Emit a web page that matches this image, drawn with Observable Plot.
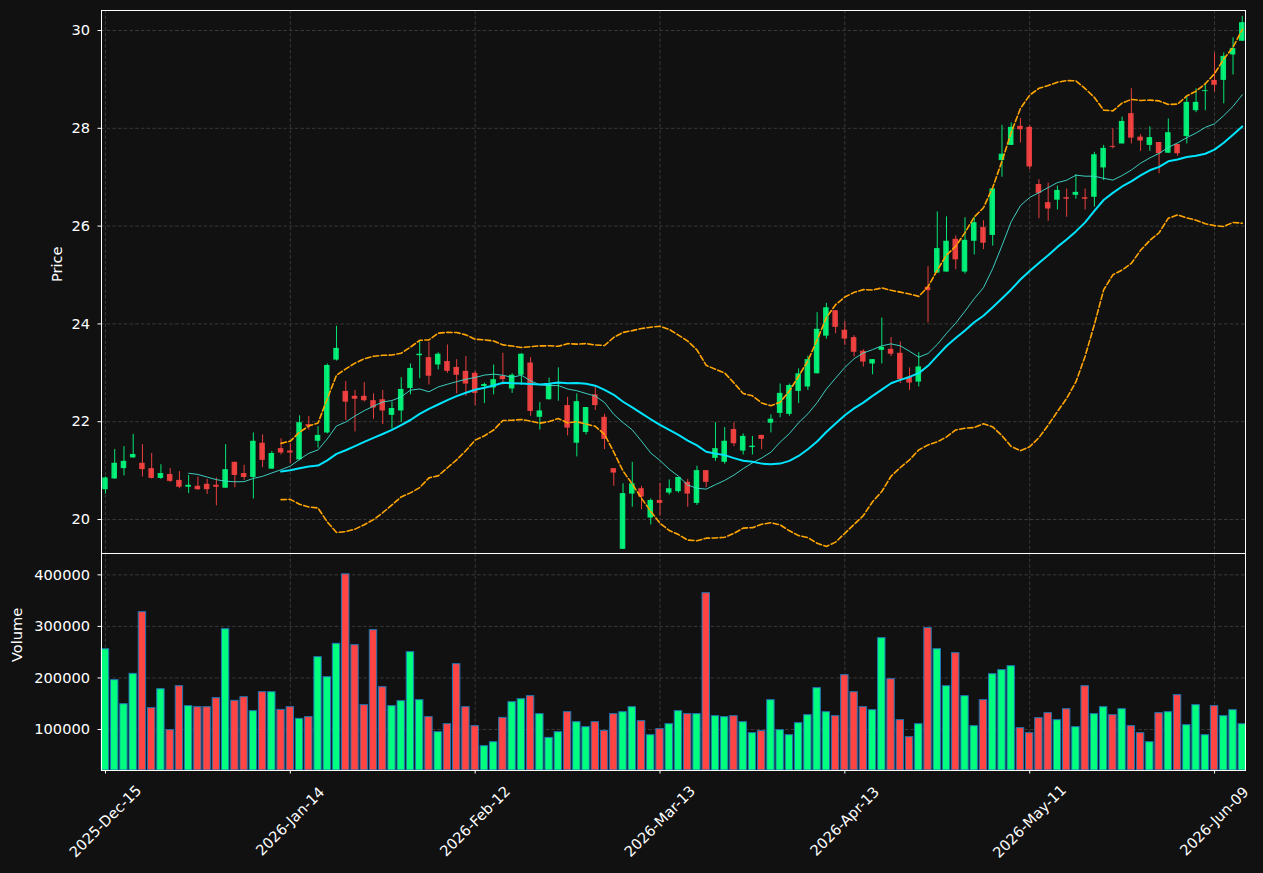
<!DOCTYPE html>
<html>
<head>
<meta charset="utf-8">
<script src="https://cdn.jsdelivr.net/npm/d3@7"></script>
<script src="https://cdn.jsdelivr.net/npm/@observablehq/plot@0.6"></script>
<style>
html, body { margin: 0; padding: 0; background: #111111; }
#chart { width: 1263px; height: 873px; position: relative; background: #111111; }
#chart svg { display: block; }
</style>
</head>
<body>
<div id="chart"></div>
<script>
// ---- data ----
const tickIndex = [0, 20, 40, 60, 80, 100, 120];
const tickLabels = ["2025-Dec-15", "2026-Jan-14", "2026-Feb-12", "2026-Mar-13", "2026-Apr-13", "2026-May-11", "2026-Jun-09"];
const priceTicks = [20, 22, 24, 26, 28, 30];
const volumeTicks = [100000, 200000, 300000, 400000];

const opens = [
  20.61, 20.83, 21.04, 21.26, 21.15, 21.04, 20.84, 20.92, 20.80, 20.66,
  20.68, 20.72, 20.70, 20.64, 21.17, 20.94, 20.86, 21.56, 21.03, 21.45,
  21.40, 21.22, 21.94, 21.60, 21.77, 23.26, 22.62, 22.52, 22.52, 22.43,
  22.45, 22.13, 22.22, 22.68, 23.35, 23.31, 23.16, 23.23, 23.11, 23.03,
  22.99, 22.72, 22.69, 22.93, 22.67, 22.95, 23.20, 22.09, 22.45, 22.77,
  22.33, 21.56, 21.78, 22.55, 22.09, 21.04, 19.39, 20.52, 20.63, 20.03,
  20.39, 20.54, 20.57, 20.76, 20.33, 21.00, 21.25, 21.17, 21.84, 21.40,
  21.47, 21.72, 21.97, 22.17, 22.15, 22.62, 22.71, 22.98, 23.75, 24.27,
  23.87, 23.72, 23.44, 23.18, 23.46, 23.48, 23.40, 22.91, 22.81, 24.75,
  25.04, 25.06, 25.73, 25.06, 25.69, 25.97, 25.81, 27.34, 27.65, 28.04,
  28.02, 26.85, 26.48, 26.53, 26.58, 26.63, 26.58, 26.59, 27.19, 27.63,
  27.68, 28.30, 27.82, 27.65, 27.71, 27.49, 27.67, 27.83, 28.36, 28.75,
  28.98, 28.98, 29.50, 29.78
];
const highs = [
  20.87, 21.43, 21.49, 21.74, 21.53, 21.35, 21.12, 21.04, 20.98, 20.90,
  20.87, 20.82, 20.85, 21.53, 21.17, 21.11, 21.77, 21.73, 21.39, 21.65,
  21.55, 22.12, 22.11, 21.90, 23.18, 23.95, 22.82, 22.64, 22.80, 22.57,
  22.64, 22.40, 22.90, 23.18, 23.64, 23.63, 23.41, 23.57, 23.27, 23.33,
  23.03, 22.79, 23.16, 23.40, 22.98, 23.39, 23.31, 22.39, 22.89, 23.10,
  22.50, 22.57, 22.29, 22.73, 22.15, 21.04, 20.73, 21.17, 20.68, 20.42,
  20.74, 20.81, 20.86, 20.82, 21.09, 21.00, 21.98, 21.88, 21.98, 21.75,
  21.70, 21.72, 22.14, 22.77, 22.77, 23.08, 23.34, 24.23, 24.42, 24.27,
  24.05, 23.76, 23.47, 23.27, 24.12, 23.72, 23.63, 23.10, 23.41, 25.17,
  26.29, 26.19, 25.80, 26.17, 26.18, 26.11, 26.76, 28.06, 28.11, 28.20,
  28.05, 26.95, 26.88, 26.82, 26.76, 27.05, 26.76, 27.51, 27.65, 27.99,
  28.23, 28.81, 27.87, 28.03, 27.71, 28.19, 27.67, 28.65, 28.81, 28.92,
  29.54, 29.54, 29.85, 30.29
];
const lows = [
  20.52, 20.82, 20.89, 21.25, 20.87, 20.83, 20.82, 20.76, 20.63, 20.53,
  20.59, 20.51, 20.28, 20.64, 20.65, 20.80, 20.42, 21.06, 21.03, 21.32,
  21.14, 21.20, 21.83, 21.46, 21.75, 23.24, 22.02, 21.79, 22.40, 22.05,
  21.94, 21.85, 21.98, 22.55, 22.88, 22.75, 23.06, 22.99, 22.57, 22.52,
  22.33, 22.37, 22.55, 22.75, 22.58, 22.74, 22.11, 21.83, 22.44, 22.42,
  21.71, 21.28, 21.73, 22.23, 21.43, 20.68, 19.39, 20.25, 20.20, 19.89,
  20.07, 20.50, 20.54, 20.25, 20.29, 20.65, 21.19, 21.13, 21.49, 21.32,
  21.32, 21.43, 21.77, 22.08, 22.11, 22.37, 22.64, 22.98, 23.69, 23.80,
  23.56, 23.32, 23.12, 22.96, 23.18, 23.33, 22.78, 22.64, 22.71, 24.02,
  25.04, 25.06, 25.11, 25.02, 25.41, 25.52, 25.59, 27.00, 27.65, 27.70,
  27.15, 26.15, 26.10, 26.33, 26.18, 26.55, 26.33, 26.39, 26.93, 27.58,
  27.68, 27.68, 27.53, 27.53, 27.07, 27.49, 27.43, 27.68, 28.32, 28.36,
  28.74, 28.50, 29.09, 29.78
];
const closes = [
  20.85, 21.15, 21.19, 21.33, 21.02, 20.84, 20.94, 20.78, 20.66, 20.70,
  20.61, 20.61, 20.66, 21.02, 20.90, 20.86, 21.60, 21.21, 21.35, 21.36,
  21.36, 21.98, 21.90, 21.72, 23.15, 23.50, 22.40, 22.46, 22.43, 22.28,
  22.22, 22.27, 22.66, 23.09, 23.38, 22.93, 23.38, 23.03, 22.95, 22.77,
  22.58, 22.76, 22.86, 22.86, 22.95, 23.38, 22.21, 22.22, 22.78, 22.80,
  21.87, 22.41, 22.29, 22.33, 21.64, 20.95, 20.53, 20.73, 20.46, 20.39,
  20.33, 20.63, 20.86, 20.52, 21.00, 20.76, 21.45, 21.60, 21.55, 21.70,
  21.50, 21.64, 22.05, 22.58, 22.74, 22.98, 23.27, 23.89, 24.33, 23.93,
  23.69, 23.42, 23.22, 23.27, 23.52, 23.38, 22.86, 22.79, 23.12, 24.68,
  25.54, 25.69, 25.31, 25.71, 26.07, 25.65, 26.76, 27.47, 28.02, 27.97,
  27.21, 26.67, 26.35, 26.73, 26.55, 26.69, 26.55, 27.46, 27.59, 27.61,
  28.14, 27.80, 27.74, 27.81, 27.48, 27.91, 27.48, 28.53, 28.53, 28.77,
  28.88, 29.47, 29.63, 30.16
];
const volumes = [
  255800, 195700, 149100, 208000, 327600, 141400, 178200, 98700, 184000, 145300,
  143300, 143300, 160800, 294600, 155600, 162700, 135600, 172400, 172400, 138100,
  143300, 120700, 124000, 240300, 201500, 266200, 401000, 263600, 147200, 292700,
  182100, 145300, 155000, 250000, 156900, 124000, 94800, 110300, 226700, 143300,
  106500, 67700, 75400, 122600, 153000, 158800, 164700, 129800, 83800, 94800,
  133600, 114200, 104500, 114200, 97400, 129800, 133600, 143300, 116200, 89000,
  100700, 110300, 135600, 129800, 129800, 364400, 125900, 124000, 125900, 114200,
  92900, 96800, 156900, 98700, 89000, 112300, 127800, 180200, 133600, 125900,
  205400, 172400, 143300, 137500, 277200, 197600, 118100, 85100, 110300, 296600,
  255800, 184000, 248100, 164700, 106500, 156900, 207300, 215100, 222800, 102600,
  92900, 122000, 131700, 118100, 139400, 104500, 184000, 129800, 143300, 127800,
  139400, 106500, 92900, 75400, 131700, 133600, 166600, 108400, 147200, 89000,
  145300, 125900, 137500, 110300
];

// ---- derived table ----
const bars = closes.map((c, i) => ({
  i, open: opens[i], high: highs[i], low: lows[i], close: c, volume: volumes[i], up: c >= opens[i]
}));
const upBars = bars.filter(d => d.up);
const downBars = bars.filter(d => !d.up);

// indicators computed from the closes (10/20 moving averages, 20-period Bollinger bands)
function rolling(values, k, fn) {
  return values.map((_, i) => (i < k - 1 ? NaN : fn(values.slice(i - k + 1, i + 1))));
}
const ma10 = rolling(closes, 10, d3.mean);
const ma20 = rolling(closes, 20, d3.mean);
const sd20 = rolling(closes, 20, d3.deviation);
const ind = bars.map((d, i) => ({
  i, ma10: ma10[i], ma20: ma20[i], upper: ma20[i] + 2 * sd20[i], lower: ma20[i] - 2 * sd20[i]
}));

// ---- styling ----
const UP = "#00ff7f";
const DOWN = "#ff4444";
const EDGE = "#1f77b4";
const GRID = "#3d3d3d";
const BG = "#111111";
const FS = 14.6;
const font = "'DejaVu Sans', sans-serif";
const xDomain = [-0.43, 123.35];
const volDomain = [20500, 441400];
const gridStyle = { stroke: GRID, strokeOpacity: 1, strokeWidth: 0.9, strokeDasharray: "3.5,2.2" };
const style = { background: BG, color: "white", fontFamily: font, fontSize: FS + "px", overflow: "visible" };

const price = Plot.plot({
  width: 1263, height: 553,
  marginTop: 10, marginBottom: 0, marginLeft: 101, marginRight: 18,
  style,
  x: { domain: xDomain, axis: null },
  y: { domain: [19.305, 30.409], axis: null },
  marks: [
    Plot.gridX(tickIndex, gridStyle),
    Plot.gridY(priceTicks, gridStyle),
    Plot.ruleX(upBars, { x: "i", y1: "low", y2: "high", stroke: UP, strokeOpacity: 0.9, strokeWidth: 1 }),
    Plot.ruleX(downBars, { x: "i", y1: "low", y2: "high", stroke: DOWN, strokeOpacity: 0.9, strokeWidth: 1 }),
    Plot.rect(upBars, { x1: d => d.i - 0.3, x2: d => d.i + 0.3, y1: "open", y2: "close", fill: UP, fillOpacity: 0.9 }),
    Plot.rect(downBars, { x1: d => d.i - 0.3, x2: d => d.i + 0.3, y1: "open", y2: "close", fill: DOWN, fillOpacity: 0.9 }),
    Plot.line(ind, { x: "i", y: "ma10", stroke: "#40e0d0", strokeWidth: 1, strokeOpacity: 0.9 }),
    Plot.line(ind, { x: "i", y: "ma20", stroke: "#00e5ff", strokeWidth: 2 }),
    Plot.line(ind, { x: "i", y: "upper", stroke: "#ffa500", strokeWidth: 1.6, strokeDasharray: "5.5,2.5" }),
    Plot.line(ind, { x: "i", y: "lower", stroke: "#ffa500", strokeWidth: 1.6, strokeDasharray: "5.5,2.5" }),
    Plot.axisY(priceTicks, { tickSize: 3.5, tickPadding: 8, label: null, stroke: "white", fill: "white", fontSize: FS }),
    Plot.text(["Price"], { frameAnchor: "left", dx: -44, rotate: -90, fill: "white", fontSize: FS }),
    Plot.frame({ stroke: "white", strokeWidth: 1 })
  ]
});

const volume = Plot.plot({
  width: 1263, height: 320,
  marginTop: 0, marginBottom: 103, marginLeft: 101, marginRight: 18,
  style,
  x: { domain: xDomain, axis: null },
  y: { domain: volDomain, axis: null },
  marks: [
    Plot.gridX(tickIndex, gridStyle),
    Plot.gridY(volumeTicks, gridStyle),
    Plot.rect(upBars, { x1: d => d.i - 0.4, x2: d => d.i + 0.4, y1: volDomain[0], y2: "volume", fill: UP, stroke: EDGE, strokeWidth: 1 }),
    Plot.rect(downBars, { x1: d => d.i - 0.4, x2: d => d.i + 0.4, y1: volDomain[0], y2: "volume", fill: DOWN, stroke: EDGE, strokeWidth: 1 }),
    Plot.axisY(volumeTicks, { tickSize: 3.5, tickPadding: 8, label: null, tickFormat: d => String(d), stroke: "white", fill: "white", fontSize: FS }),
    Plot.axisX(tickIndex, { tickSize: 3.5, tickFormat: () => "", label: null, stroke: "white" }),
    Plot.text(tickIndex, {
      x: d => d, text: d => tickLabels[tickIndex.indexOf(d)], frameAnchor: "bottom", dy: 51,
      rotate: -45, textAnchor: "middle", lineAnchor: "middle", fill: "white", fontSize: FS
    }),
    Plot.text(["Volume"], { frameAnchor: "left", dx: -84, rotate: -90, fill: "white", fontSize: FS }),
    Plot.frame({ stroke: "white", strokeWidth: 1 })
  ]
});

const chart = document.getElementById("chart");
chart.appendChild(price);
chart.appendChild(volume);
</script>
</body>
</html>
